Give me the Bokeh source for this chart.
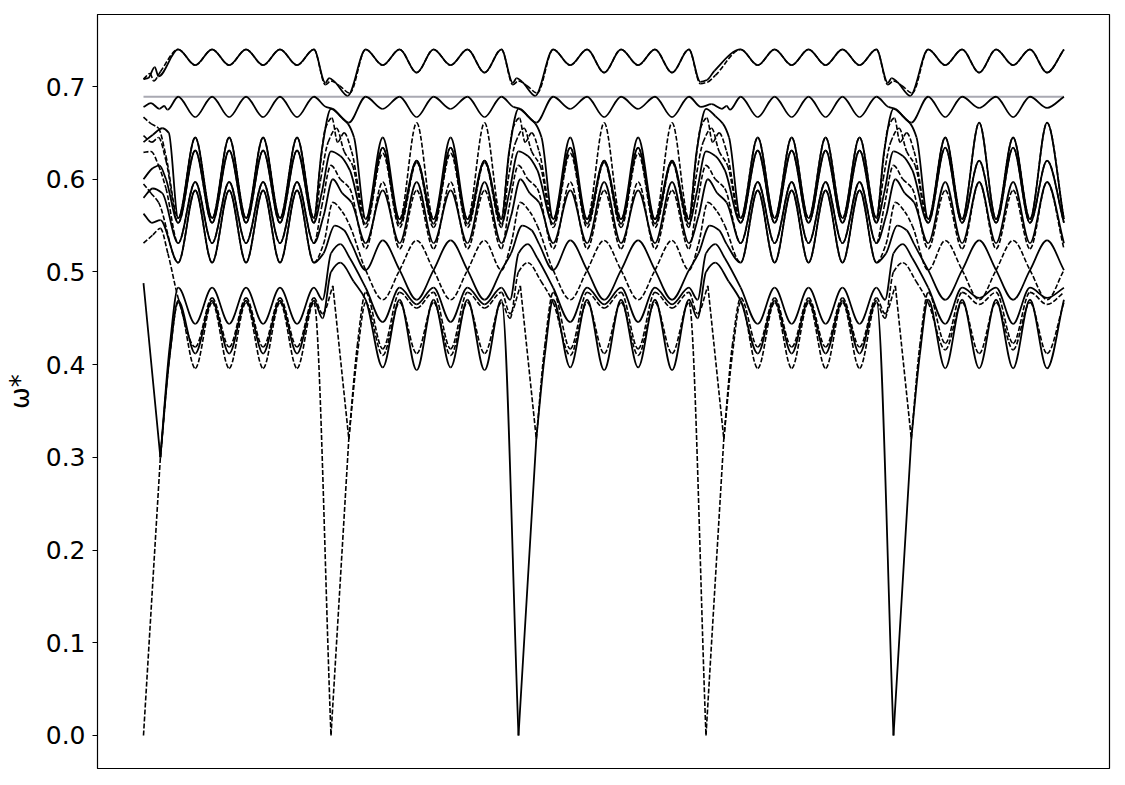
import numpy as np
from bokeh.plotting import figure
from bokeh.models import ColumnDataSource, Range1d, FixedTicker, PrintfTickFormatter
from bokeh.embed import file_html
from bokeh.resources import INLINE

# ---------------- data ----------------
# x: one segment of the path = 10 units; segments start at these positions
SEG_X0 = [0, 10, 20, 30, 40]
# positions (inside a segment) of the successive extrema of the oscillating bands
EXT_DX = [1.85, 2.76, 3.66, 4.57, 5.47, 6.38, 7.28, 8.19, 9.09]
Y_TICKS = [0.0, 0.1, 0.2, 0.3, 0.4, 0.5, 0.6, 0.7]
REF_LEVEL = 0.689
X_END = 49.09

# top band
A_U = [0.740, 0.723, 0.740, 0.723, 0.740, 0.723, 0.740, 0.723, 0.740]
A_M = [0.740, 0.723, 0.740, 0.715, 0.740, 0.723, 0.740, 0.715, 0.740]
A_START = [(0.0, 0.708), (0.25, 0.709), (0.6, 0.721), (0.8, 0.711)]
A_TR = [(-0.3, 0.704), (-0.1, 0.709), (0.2, 0.705), (0.89, 0.690)]
A_TR30 = [(-0.3, 0.705), (0.05, 0.707), (0.45, 0.717)]
AD_START = [(0.0, 0.708), (0.35, 0.714), (0.55, 0.706), (0.9, 0.716)]
AD_TR = [(-0.3, 0.702), (0.0, 0.706), (0.45, 0.701), (1.0, 0.693)]
AD_TR30 = [(-0.3, 0.703), (0.1, 0.705), (0.5, 0.712)]

# second band (touches the reference level)
B_U = [0.689, 0.667, 0.689, 0.667, 0.689, 0.667, 0.689, 0.667, 0.689]
B_M = [0.689, 0.676, 0.689, 0.667, 0.689, 0.676, 0.689, 0.667, 0.689]
B_M5 = [0.689, 0.667, 0.689, 0.677, 0.689, 0.667, 0.689, 0.677, 0.689]
B_START = [(0.0, 0.678), (0.4, 0.682), (0.85, 0.676), (1.1, 0.679), (1.28, 0.675)]
B_TR = [(-0.27, 0.678), (0.09, 0.676), (0.95, 0.661)]
B_TR30 = [(-0.27, 0.678), (0.3, 0.681), (0.85, 0.676), (1.1, 0.679), (1.28, 0.675)]

# middle band
M1_U = [0.558, 0.645, 0.558, 0.645, 0.558, 0.645, 0.558, 0.645, 0.558]
M1S_M = [0.557, 0.645, 0.557, 0.620, 0.557, 0.645, 0.557, 0.620, 0.557]
M1D_M = [0.557, 0.634, 0.557, 0.661, 0.557, 0.634, 0.557, 0.661, 0.557]
M1_M5 = [0.557, 0.645, 0.557, 0.661, 0.557, 0.645, 0.557, 0.661, 0.557]
M1S_START = [(0.0, 0.640), (0.5, 0.648), (1.0, 0.655), (1.35, 0.650)]
M1D_START = [(0.0, 0.667), (0.4, 0.660), (0.8, 0.655), (1.2, 0.625)]
M1S_TR = [(-0.5, 0.630), (0.0, 0.676), (0.5, 0.668), (0.9, 0.660), (1.23, 0.645)]
M1D_TR = [(-0.6, 0.610), (-0.3, 0.655), (0.05, 0.666), (0.35, 0.640), (0.7, 0.650), (1.1, 0.630)]

M2_U = [0.553, 0.631, 0.553, 0.631, 0.553, 0.631, 0.553, 0.631, 0.553]
M2S_M = [0.552, 0.634, 0.552, 0.620, 0.552, 0.634, 0.552, 0.620, 0.552]
M2D_M = [0.548, 0.628, 0.548, 0.618, 0.548, 0.628, 0.548, 0.618, 0.548]
M2_M5 = [0.553, 0.634, 0.553, 0.620, 0.553, 0.634, 0.553, 0.620, 0.553]
M2S_START = [(0.0, 0.600), (0.5, 0.612), (0.85, 0.615), (1.2, 0.600)]
M2D_START = [(0.0, 0.647), (0.45, 0.640), (0.8, 0.645), (1.2, 0.620)]
M2S_TR = [(-0.5, 0.585), (0.0, 0.630), (0.5, 0.625), (1.0, 0.610)]
M2D_TR = [(-0.55, 0.600), (-0.15, 0.640), (0.3, 0.655), (0.7, 0.630), (1.15, 0.615)]

M3_U = [0.531, 0.597, 0.531, 0.597, 0.531, 0.597, 0.531, 0.597, 0.531]
M3S_M = [0.531, 0.588, 0.531, 0.597, 0.531, 0.588, 0.531, 0.597, 0.531]
M3D_M = [0.525, 0.597, 0.525, 0.588, 0.525, 0.597, 0.525, 0.588, 0.525]
M3S_M5 = [0.531, 0.597, 0.531, 0.597, 0.531, 0.597, 0.531, 0.597, 0.531]
M3D_M5 = [0.525, 0.588, 0.525, 0.597, 0.525, 0.588, 0.525, 0.597, 0.525]
M3S_START = [(0.0, 0.580), (0.5, 0.590), (1.0, 0.585)]
M3D_START = [(0.0, 0.629), (0.4, 0.630), (0.8, 0.615), (1.2, 0.590)]
M3S_TR = [(-0.4, 0.560), (0.1, 0.600), (0.6, 0.585), (1.1, 0.575)]
M3D_TR = [(-0.5, 0.570), (0.0, 0.615), (0.5, 0.600), (1.0, 0.590)]

X_U = [0.510, 0.588, 0.510, 0.588, 0.510, 0.588, 0.510, 0.588, 0.510]
XS_M = [0.502, 0.534, 0.502, 0.470, 0.502, 0.534, 0.502, 0.470, 0.502]
XD_M = [0.502, 0.470, 0.502, 0.534, 0.502, 0.470, 0.502, 0.534, 0.502]
XS_START = [(0.0, 0.563), (0.45, 0.553), (0.9, 0.556)]
XD_START = [(0.0, 0.595), (0.4, 0.585), (0.8, 0.575)]
XS_TR = [(-0.4, 0.520), (0.2, 0.550), (0.7, 0.545), (1.1, 0.530)]
XD_TR = [(-0.4, 0.530), (0.1, 0.575), (0.6, 0.565), (1.0, 0.550)]

# lower band
L1S_U = [0.483, 0.444, 0.483, 0.444, 0.483, 0.444, 0.483, 0.444, 0.483]
L1D_U = [0.472, 0.419, 0.472, 0.419, 0.472, 0.419, 0.472, 0.419, 0.472]
L1S_M = [0.483, 0.446, 0.483, 0.465, 0.483, 0.446, 0.483, 0.465, 0.483]
L1D_M = [0.478, 0.417, 0.478, 0.461, 0.478, 0.417, 0.478, 0.461, 0.478]
L1S_M5 = [0.483, 0.444, 0.483, 0.472, 0.483, 0.444, 0.483, 0.472, 0.483]
L1D_M5 = [0.478, 0.423, 0.478, 0.465, 0.478, 0.423, 0.478, 0.465, 0.478]
L1S_START = [(0.0, 0.488), (0.9, 0.300), None, (1.4, 0.420)]
L1D_START = [(0.0, 0.531), (0.5, 0.540), (0.9, 0.547), (1.3, 0.520)]
L1_TR_V = [(-0.45, 0.455), (0.1, 0.485), None, (0.95, 0.320), None, (1.4, 0.420)]
L1_TR_PLAIN = [(-0.45, 0.470), (0.0, 0.520), (0.5, 0.530), (1.0, 0.515)]

L2S_U = [0.469, 0.412, 0.469, 0.412, 0.469, 0.412, 0.469, 0.412, 0.469]
L2D_U = [0.467, 0.396, 0.467, 0.396, 0.467, 0.396, 0.467, 0.396, 0.467]
L2S_M = [0.470, 0.397, 0.470, 0.394, 0.470, 0.397, 0.470, 0.394, 0.470]
L2D_M = [0.467, 0.410, 0.467, 0.412, 0.467, 0.410, 0.467, 0.412, 0.467]
L2S_M5 = [0.470, 0.396, 0.470, 0.396, 0.470, 0.396, 0.470, 0.396, 0.470]
L2D_M5 = [0.467, 0.416, 0.467, 0.412, 0.467, 0.416, 0.467, 0.412, 0.467]
L2S_START = [(0.9, 0.300), (1.4, 0.410)]
L2D_START = [(0.0, 0.0), None, (0.9, 0.300), None, (1.4, 0.410)]
L2_TR_V = [(0.0, 0.0), None, (0.95, 0.320), None, (1.4, 0.410)]
L2_TR_PLAIN = [(-0.45, 0.450), (0.0, 0.500), (0.5, 0.510), (1.2, 0.490)]

# (style, start, uniform seg, mixed seg, last seg, transitions at x = 10, 20, 30, 40)
CURVES = [
    ("solid", A_START, A_U, A_M, A_M, [A_TR, A_TR, A_TR30, A_TR]),
    ("dashed", AD_START, A_U, A_M, A_M, [AD_TR, AD_TR, AD_TR30, AD_TR]),
    ("solid", B_START, B_U, B_M, B_M5, [B_TR, B_TR, B_TR30, B_TR]),
    ("solid", M1S_START, M1_U, M1S_M, M1_M5, [M1S_TR] * 4),
    ("dashed", M1D_START, M1_U, M1D_M, M1_M5, [M1D_TR] * 4),
    ("solid", M2S_START, M2_U, M2S_M, M2_M5, [M2S_TR] * 4),
    ("dashed", M2D_START, M2_U, M2D_M, M2_M5, [M2D_TR] * 4),
    ("solid", M3S_START, M3_U, M3S_M, M3S_M5, [M3S_TR] * 4),
    ("dashed", M3D_START, M3_U, M3D_M, M3D_M5, [M3D_TR] * 4),
    ("solid", XS_START, X_U, XS_M, XD_M, [XS_TR] * 4),
    ("dashed", XD_START, X_U, XD_M, XS_M, [XD_TR] * 4),
    ("solid", L1S_START, L1S_U, L1S_M, L1S_M5, [L1_TR_PLAIN] * 4),
    ("dashed", L1D_START, L1D_U, L1D_M, L1D_M5, [L1_TR_V] * 4),
    ("solid", L2S_START, L2S_U, L2S_M, L2S_M5, [L2_TR_PLAIN, L2_TR_V, L2_TR_PLAIN, L2_TR_V]),
    ("dashed", L2D_START, L2D_U, L2D_M, L2D_M5, [L2_TR_V, L2_TR_PLAIN, L2_TR_V, L2_TR_PLAIN]),
]


# ---------------- assembly ----------------
def assemble(start, u, m, m5, trs):
    seg_vals = [u, m, m, u, m5]
    pts = list(start)
    for k in range(5):
        if k > 0:
            for q in trs[k - 1]:
                pts.append(None if q is None else (SEG_X0[k] + q[0], q[1]))
        pts += [(SEG_X0[k] + dx, v) for dx, v in zip(EXT_DX, seg_vals[k])]
    pieces = [[]]
    for q in pts:
        if q is None:
            pieces.append([pieces[-1][-1]])
        else:
            pieces[-1].append(q)
    return [pc for pc in pieces if len(pc) > 1]


def bezier_cols(piece, cols):
    x = np.array([q[0] for q in piece], dtype=float)
    y = np.array([q[1] for q in piece], dtype=float)
    n = len(x)
    h = np.diff(x)
    d = np.diff(y) / h
    m = np.zeros(n)
    m[0] = d[0]
    m[-1] = d[-1]
    for i in range(1, n - 1):
        if d[i - 1] * d[i] <= 0:
            m[i] = 0.0
        else:
            w1 = 2 * h[i] + h[i - 1]
            w2 = h[i] + 2 * h[i - 1]
            m[i] = (w1 + w2) / (w1 / d[i - 1] + w2 / d[i])
    for i in range(n - 1):
        cols["x0"].append(x[i]); cols["y0"].append(y[i])
        cols["x1"].append(x[i + 1]); cols["y1"].append(y[i + 1])
        cols["cx0"].append(x[i] + h[i] / 3); cols["cy0"].append(y[i] + m[i] * h[i] / 3)
        cols["cx1"].append(x[i + 1] - h[i] / 3); cols["cy1"].append(y[i + 1] - m[i + 1] * h[i] / 3)


keys = ["x0", "y0", "x1", "y1", "cx0", "cy0", "cx1", "cy1"]
solid_cols = {k: [] for k in keys}
dashed_cols = {k: [] for k in keys}
for style, start, u, mm, m5, trs in CURVES:
    for pc in assemble(start, u, mm, m5, trs):
        bezier_cols(pc, solid_cols if style == "solid" else dashed_cols)

# ---------------- figure ----------------
p = figure(
    output_backend="svg",
    toolbar_location=None,
    x_range=Range1d(-2.453, 51.52),
    y_range=Range1d(-0.0356, 0.7777),
    frame_width=1012,
    frame_height=754,
    min_border_left=97,
    min_border_right=16,
    min_border_top=14,
    min_border_bottom=17,
)
p.background_fill_color = "white"
p.border_fill_color = "white"
p.outline_line_color = "black"
p.outline_line_width = 1.2
p.outline_line_alpha = 1.0
p.grid.visible = False
p.xaxis.visible = False

ya = p.yaxis[0]
ya.ticker = FixedTicker(ticks=Y_TICKS)
ya.formatter = PrintfTickFormatter(format="%.1f")
ya.minor_tick_line_color = None
ya.major_tick_in = 0
ya.major_tick_out = 5
ya.major_tick_line_color = "black"
ya.axis_line_color = "black"
ya.major_label_text_font = "DejaVu Sans"
ya.major_label_text_font_size = "25px"
ya.major_label_text_color = "black"
ya.major_label_standoff = 7
ya.axis_label = "ω*"
ya.axis_label_text_font = "DejaVu Sans"
ya.axis_label_text_font_size = "26px"
ya.axis_label_text_font_style = "normal"
ya.axis_label_text_color = "black"
ya.axis_label_standoff = 8

p.line([0, X_END], [REF_LEVEL, REF_LEVEL], line_color="#a9a9b2", line_width=2)

p.bezier(x0="x0", y0="y0", x1="x1", y1="y1", cx0="cx0", cy0="cy0", cx1="cx1", cy1="cy1",
         source=ColumnDataSource(solid_cols), line_color="black", line_width=1.8)
p.bezier(x0="x0", y0="y0", x1="x1", y1="y1", cx0="cx0", cy0="cy0", cx1="cx1", cy1="cy1",
         source=ColumnDataSource(dashed_cols), line_color="black", line_width=1.6,
         line_dash="5 2")

open("out.html", "w").write(file_html(p, INLINE))
